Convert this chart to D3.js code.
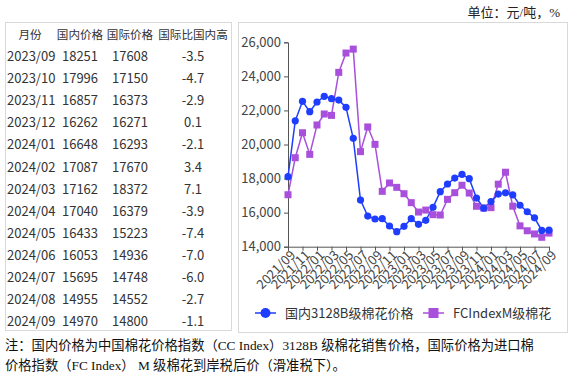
<!DOCTYPE html>
<html><head><meta charset="utf-8">
<script src="https://cdn.jsdelivr.net/npm/d3@7"></script>
<style>body{margin:0;background:#fff}svg{display:block}</style>
</head><body>
<svg id="c" width="572" height="381"></svg>
<script>
const months = ["2021/09","2021/10","2021/11","2021/12","2022/01","2022/02","2022/03","2022/04","2022/05","2022/06","2022/07","2022/08","2022/09","2022/10","2022/11","2022/12","2023/01","2023/02","2023/03","2023/04","2023/05","2023/06","2023/07","2023/08","2023/09","2023/10","2023/11","2023/12","2024/01","2024/02","2024/03","2024/04","2024/05","2024/06","2024/07","2024/08","2024/09"];
const domestic = [18110,21390,22535,21925,22495,22830,22690,22610,22180,20360,16740,15800,15625,15645,15215,14880,15195,15645,15315,15550,16310,17230,17680,18030,18251,17996,16857,16262,16648,17087,17162,17040,16433,16053,15695,14955,14970];
const intl = [17050,19225,20690,19420,21145,21790,21710,24235,25370,25600,19580,21030,20010,17250,17740,17485,17110,16585,16035,16150,15880,15860,16780,17170,17608,17150,16373,16271,16293,17670,18372,16379,15223,14936,14748,14552,14800];
const tableMonths = months.slice(24);
const tableDom = domestic.slice(24);
const tableIntl = intl.slice(24);
const tableDiff = ["-3.5","-4.7","-2.9","0.1","-2.1","3.4","7.1","-3.9","-7.4","-7.0","-6.0","-2.7","-1.1"];
const tableHeader = ["月份","国内价格","国际价格","国际比国内高"];
const yTicks = [14000,16000,18000,20000,22000,24000,26000];
const xTickLabels = months.filter((d,i)=>i%2===0);
const seriesNames = ["国内3128B级棉花价格","FCIndexM级棉花"];

const svg = d3.select("#c");
const sans = "'Noto Sans CJK SC','Noto Sans',sans-serif";
const serif = "'Liberation Serif','DejaVu Serif','Noto Sans CJK SC',serif";
const blue = "#1f3dff", purple = "#a84fdc";

// table
svg.append("rect").attr("x",5.5).attr("y",22.5).attr("width",226).attr("height",308).attr("fill","none").attr("stroke","#d9d9d9");
const colX = [30,80,130,193];
const tg = svg.append("g").attr("font-family",sans).attr("font-size",13).attr("fill","#333");
tableHeader.forEach((h,i)=>tg.append("text").attr("x",colX[i]).attr("y",39).attr("text-anchor","middle").attr("font-size",11.6).text(h));
tableMonths.forEach((m,r)=>{
  const y = 61 + r*22.1;
  tg.append("text").attr("x",7).attr("y",y).text(m);
  tg.append("text").attr("x",colX[1]).attr("y",y).attr("text-anchor","middle").text(tableDom[r]);
  tg.append("text").attr("x",colX[2]).attr("y",y).attr("text-anchor","middle").text(tableIntl[r]);
  tg.append("text").attr("x",colX[3]).attr("y",y).attr("text-anchor","middle").text(tableDiff[r]);
});

// unit
svg.append("text").attr("x",560).attr("y",17).attr("text-anchor","end").attr("font-family",serif).attr("font-size",13).attr("fill","#222").text("单位：元/吨，%");

// chart panel
svg.append("rect").attr("x",238.5).attr("y",22.5).attr("width",329).attr("height",310).attr("fill","none").attr("stroke","#d9d9d9");

const x = d3.scalePoint().domain(months).range([288,549]);
const y = d3.scaleLinear().domain([14000,26000]).range([246.7,42.3]);

const ya = svg.append("g").attr("transform","translate(288,0)")
  .call(d3.axisLeft(y).tickValues(yTicks).tickFormat(d3.format(",")).tickSizeOuter(0).tickSize(4));
ya.select(".domain").attr("stroke","#555");
ya.selectAll(".tick line").attr("stroke","#555");
ya.selectAll("text").attr("font-family",sans).attr("font-size",13).attr("fill","#444");

const xa = svg.append("g").attr("transform","translate(0,246.7)")
  .call(d3.axisBottom(x).tickValues(xTickLabels).tickSizeOuter(0).tickSize(4));
xa.select(".domain").attr("stroke","#555");
xa.selectAll(".tick line").attr("stroke","#555");
xa.selectAll("text").attr("font-family",sans).attr("font-size",13).attr("fill","#444")
  .attr("text-anchor","end").attr("dy","0").attr("dx","0").attr("y",6)
  .attr("transform","rotate(-45) translate(-1,6)");

const line = d3.line().x((d,i)=>x(months[i])).y(d=>y(d));
svg.append("path").datum(intl).attr("d",line).attr("fill","none").attr("stroke",purple).attr("stroke-width",1.5);
svg.append("path").datum(domestic).attr("d",line).attr("fill","none").attr("stroke",blue).attr("stroke-width",1.5);
svg.append("g").selectAll("rect").data(intl).join("rect")
  .attr("x",(d,i)=>x(months[i])-3.5).attr("y",d=>y(d)-3.5).attr("width",7).attr("height",7).attr("fill",purple);
svg.append("g").selectAll("circle").data(domestic).join("circle")
  .attr("cx",(d,i)=>x(months[i])).attr("cy",d=>y(d)).attr("r",3.6).attr("fill",blue);

// legend
const lg = svg.append("g").attr("font-family",sans).attr("font-size",13).attr("fill","#333");
lg.append("line").attr("x1",255).attr("x2",276).attr("y1",313).attr("y2",313).attr("stroke",blue).attr("stroke-width",1.5);
lg.append("circle").attr("cx",265.5).attr("cy",313).attr("r",5).attr("fill",blue);
lg.append("text").attr("x",285).attr("y",318).text(seriesNames[0]);
lg.append("line").attr("x1",423).attr("x2",444).attr("y1",313).attr("y2",313).attr("stroke",purple).attr("stroke-width",1.5);
lg.append("rect").attr("x",428.5).attr("y",308).attr("width",10).attr("height",10).attr("fill",purple);
lg.append("text").attr("x",453).attr("y",318).text(seriesNames[1]);

// footnote
const fg = svg.append("g").attr("font-family",serif).attr("font-size",13.3).attr("fill","#111");
fg.append("text").attr("x",5).attr("y",350).text("注：国内价格为中国棉花价格指数（CC Index）3128B 级棉花销售价格，国际价格为进口棉");
fg.append("text").attr("x",5).attr("y",370).text("价格指数（FC Index） M 级棉花到岸税后价（滑准税下）。");
</script>
</body></html>
